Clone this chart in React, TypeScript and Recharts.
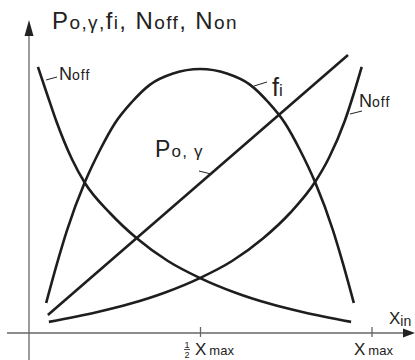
import React from 'react';
import { LineChart, Line, XAxis, YAxis, ReferenceLine } from 'recharts';

// x in % of X_max, y in arbitrary units
const fiX = [5, 8.2, 11.1, 16.3, 20.7, 25.1, 30, 35.3, 42, 49.9, 57.7, 64.4, 69.7, 74.6, 79, 83.4, 88.6, 91.5, 94.7];
const fiY = [10, 23.3, 34.3, 50.3, 61, 70, 77, 82.8, 86.5, 88, 86.5, 82.8, 77, 70, 61, 50.3, 34.3, 23.3, 10];

const nOffX = [2.6, 5.3, 8, 12.5, 16.3, 23.6, 31.5, 40.5, 49.9, 60, 70, 80, 93.9];
const nOffY = [88.7, 79.5, 70.5, 58, 50, 40, 31.5, 24, 18.3, 13.5, 9.8, 6.9, 3.7];

const nOnX = [5.8, 19.7, 29.7, 39.7, 49.8, 59.2, 68.2, 76.1, 83.5, 87.5, 92, 94.6, 97];
const nOnY = [3.7, 6.9, 9.8, 13.5, 18.3, 24, 31.5, 40, 50.5, 58.5, 70.5, 79.5, 88.7];

const pX = [5.5, 93];
const pY = [6, 92.7];

const tickX = [50, 100];

const zip = (xs: number[], ys: number[]) => xs.map((x, i) => ({ x, y: ys[i] }));

const fiData = zip(fiX, fiY);
const nOffData = zip(nOffX, nOffY);
const nOnData = zip(nOnX, nOnY);
const pData = zip(pX, pY);

const W = 415;
const H = 360;
const X_MIN = -29 / 3.43;
const X_MAX = X_MIN + W / 3.43;
const Y_MAX = 111;
const Y_MIN = Y_MAX - H / 3;

const INK = '#1e1e1e';
const AXIS = '#666';
const FONT = '"Liberation Sans", Arial, sans-serif';

export default function App() {
  return (
    <div style={{ position: 'absolute', left: 0, top: 0, width: W, height: H, background: '#fff' }}>
      <LineChart width={W} height={H} margin={{ top: 0, right: 0, bottom: 0, left: 0 }}>
        <XAxis type="number" dataKey="x" domain={[X_MIN, X_MAX]} hide allowDataOverflow />
        <YAxis type="number" dataKey="y" domain={[Y_MIN, Y_MAX]} hide allowDataOverflow />
        <ReferenceLine segment={[{ x: -6.4, y: 0 }, { x: 110, y: 0 }]} stroke={AXIS} strokeWidth={1.3} ifOverflow="visible" />
        <ReferenceLine segment={[{ x: 0, y: Y_MIN }, { x: 0, y: 100 }]} stroke={AXIS} strokeWidth={1.3} ifOverflow="visible" />
        {tickX.map((t) => (
          <ReferenceLine key={t} segment={[{ x: t, y: 2 }, { x: t, y: -1.3 }]} stroke={AXIS} strokeWidth={1.3} ifOverflow="visible" />
        ))}
        <Line data={fiData} dataKey="y" type="monotone" stroke={INK} strokeWidth={2.6} dot={false} activeDot={false} isAnimationActive={false} />
        <Line data={nOffData} dataKey="y" type="monotone" stroke={INK} strokeWidth={2.6} dot={false} activeDot={false} isAnimationActive={false} />
        <Line data={nOnData} dataKey="y" type="monotone" stroke={INK} strokeWidth={2.6} dot={false} activeDot={false} isAnimationActive={false} />
        <Line data={pData} dataKey="y" type="linear" stroke={INK} strokeWidth={2.6} dot={false} activeDot={false} isAnimationActive={false} />
      </LineChart>
      <svg width={W} height={H} style={{ position: 'absolute', left: 0, top: 0, pointerEvents: 'none' }} fontFamily={FONT} fill="#222">
        <polygon points="29,20 24.5,36 33.5,36" fill="#222" />
        <polygon points="415,333 403,328.5 403,337.5" fill="#222" />
        <text x={52} y={29} fontSize={24} letterSpacing={1.4}>
          <tspan>P</tspan>
          <tspan fontSize={19}>o,γ,</tspan>
          <tspan>f</tspan>
          <tspan fontSize={19}>i</tspan>
          <tspan>, N</tspan>
          <tspan fontSize={19}>off</tspan>
          <tspan>, N</tspan>
          <tspan fontSize={19}>on</tspan>
        </text>
        <line x1={46} y1={80} x2={57} y2={77} stroke="#222" strokeWidth={1} />
        <text x={59} y={80} fontSize={18}>
          <tspan>N</tspan>
          <tspan fontSize={14} letterSpacing={1}>off</tspan>
        </text>
        <line x1={254} y1={86} x2={267} y2={82} stroke="#222" strokeWidth={1} />
        <text x={272} y={96} fontSize={25}>
          <tspan>f</tspan>
          <tspan fontSize={17}>i</tspan>
        </text>
        <line x1={350} y1={114} x2={362} y2={111} stroke="#222" strokeWidth={1} />
        <text x={359} y={107} fontSize={18}>
          <tspan>N</tspan>
          <tspan fontSize={14} letterSpacing={1}>off</tspan>
        </text>
        <line x1={199} y1={171} x2={211} y2={174} stroke="#222" strokeWidth={1} />
        <text x={155} y={157} fontSize={23} letterSpacing={1.2}>
          <tspan>P</tspan>
          <tspan fontSize={17}>o, γ</tspan>
        </text>
        <text x={389} y={324} fontSize={17}>
          <tspan>X</tspan>
          <tspan fontSize={14} dy={2}>in</tspan>
        </text>
        <text x={187} y={348} fontSize={9} textAnchor="middle">1</text>
        <line x1={184} y1={349.5} x2={190} y2={349.5} stroke="#222" strokeWidth={0.8} />
        <text x={187} y={358} fontSize={9} textAnchor="middle">2</text>
        <text x={195} y={355} fontSize={17}>
          <tspan>X</tspan>
          <tspan fontSize={13} dx={3}>max</tspan>
        </text>
        <text x={354} y={355} fontSize={17}>
          <tspan>X</tspan>
          <tspan fontSize={13} dx={3}>max</tspan>
        </text>
      </svg>
    </div>
  );
}
